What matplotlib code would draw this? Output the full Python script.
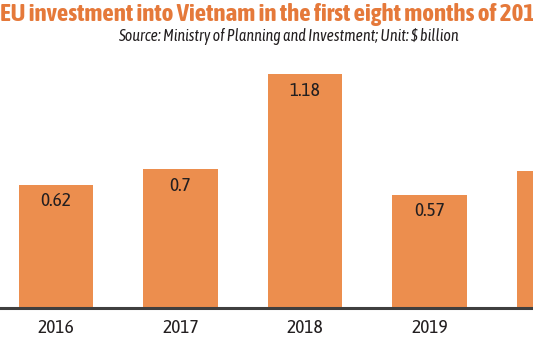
import matplotlib
matplotlib.use("Agg")
import matplotlib.pyplot as plt

years = ["2016", "2017", "2018", "2019", "2020"]
values = [0.62, 0.70, 1.18, 0.57, 0.69]
value_labels = ["0.62", "0.7", "1.18", "0.57", "0.69"]

title = "EU investment into Vietnam in the first eight months of 2016-2020"
subtitle = "Source: Ministry of Planning and Investment; Unit: $ billion"

FONT = ["Asap Condensed", "Archivo Narrow", "Liberation Sans Narrow", "DejaVu Sans"]
BAR = "#EC8E4E"
TITLE = "#E5793A"
INK = "#231f20"

fig = plt.figure(figsize=(5.33, 3.43), dpi=100)
# axes spans the full width; baseline sits 35 px above the bottom edge
ax = fig.add_axes([0, 35 / 343, 1, 250 / 343])

x = list(range(len(years)))
ax.bar(x, values, width=0.6, color=BAR, zorder=2)
for xi, v, lab in zip(x, values, value_labels):
    ax.text(xi, v - 0.082, lab, ha="center", va="center", fontsize=14,
            family=FONT, color=INK)

ax.set_xticks(x)
ax.set_xticklabels(years, family=FONT, fontsize=14, color=INK)
# limits after the ticks, otherwise set_xticks widens the view to 2020
ax.set_xlim(-56 / 124.5, (533 - 56) / 124.5)
ax.set_ylim(0, 250 / 198)
ax.tick_params(axis="x", length=0, pad=8)
ax.set_yticks([])
for s in ["top", "right", "left"]:
    ax.spines[s].set_visible(False)
ax.spines["bottom"].set_color("#3f3f3f")
ax.spines["bottom"].set_linewidth(2.2)

fig.text(0.0, 1 - 15 / 343, title, ha="left", va="center", fontsize=18,
         fontweight="bold", color=TITLE, family=FONT)
fig.text(288.5 / 533, 1 - 36.5 / 343, subtitle, ha="center", va="center",
         fontsize=11.5, style="italic", color=INK, family=FONT)

fig.savefig("out.png", dpi=100)
